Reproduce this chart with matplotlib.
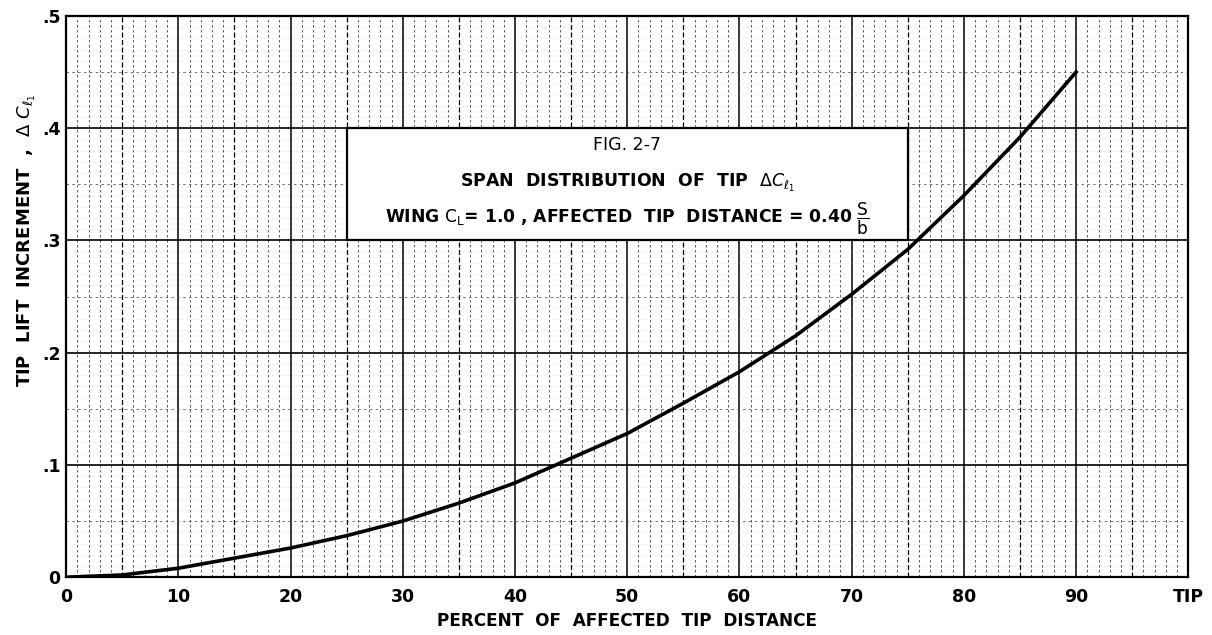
import numpy as np
import matplotlib.pyplot as plt
from matplotlib.patches import Rectangle

# values
pct_tip = [0, 5, 10, 15, 20, 25, 30, 35, 40, 45, 50, 55, 60, 65, 70, 75, 80, 85, 90]
delta_cl = [0.0, 0.002, 0.008, 0.017, 0.026, 0.037, 0.050, 0.066, 0.084, 0.106,
            0.128, 0.155, 0.183, 0.215, 0.252, 0.292, 0.340, 0.392, 0.450]

x_ticks = [0, 10, 20, 30, 40, 50, 60, 70, 80, 90, 100]
x_labels = ['0', '10', '20', '30', '40', '50', '60', '70', '80', '90', 'TIP']
y_ticks = [0, 0.1, 0.2, 0.3, 0.4, 0.5]
y_labels = ['0', '.1', '.2', '.3', '.4', '.5']

plt.rcParams['font.family'] = 'DejaVu Sans'
plt.rcParams['mathtext.fontset'] = 'dejavusans'

fig = plt.figure(figsize=(12.12, 6.35), dpi=100)
ax = fig.add_axes([0.0545, 0.091, 0.926, 0.884])

ax.set_xlim(0, 100)
ax.set_ylim(0, 0.5)

# graph paper grid
for xv in np.arange(1, 100):
    if xv % 10 == 0:
        ax.axvline(xv, color='black', lw=1.1, zorder=1)
    elif xv % 5 == 0:
        ax.axvline(xv, color='black', lw=0.9, ls=(0, (4, 2)), zorder=1)
    else:
        ax.axvline(xv, color='0.25', lw=0.6, ls=(0, (3, 3)), zorder=1)
for yv in np.arange(0.01, 0.5, 0.01):
    k = int(round(yv * 100))
    if k % 10 == 0:
        ax.axhline(yv, color='black', lw=1.2, zorder=1)
    elif k % 5 == 0:
        ax.axhline(yv, color='0.35', lw=0.6, ls=(0, (3, 4)), zorder=1)
    else:
        ax.axhline(yv, color='0.55', lw=0.4, ls=(0, (1, 6)), zorder=1)

# title box
ax.add_patch(Rectangle((25, 0.3), 50, 0.1, facecolor='white', edgecolor='black',
                       lw=1.6, zorder=3))
ax.text(50, 0.385, 'FIG. 2-7', ha='center', va='center', fontsize=12.5, zorder=4)
ax.text(50, 0.351, r'SPAN  DISTRIBUTION  OF  TIP  $\Delta C_{\ell_1}$',
        ha='center', va='center', fontsize=12.5, fontweight='bold', zorder=4)
ax.text(50, 0.319, r'WING $\mathsf{C_L}$= 1.0 , AFFECTED  TIP  DISTANCE = 0.40 $\dfrac{\mathsf{S}}{\mathsf{b}}$',
        ha='center', va='center', fontsize=12.3, fontweight='bold', zorder=4)

ax.plot(pct_tip, delta_cl, color='black', lw=2.6, zorder=5)

ax.set_xticks(x_ticks)
ax.set_xticklabels(x_labels, fontsize=12.5, fontweight='bold')
ax.set_yticks(y_ticks)
ax.set_yticklabels(y_labels, fontsize=12.5, fontweight='bold')
ax.tick_params(length=0, pad=8)
ax.tick_params(axis='y', pad=4)

ax.set_xlabel('PERCENT  OF  AFFECTED  TIP  DISTANCE', fontsize=12.2,
              fontweight='bold', labelpad=4)
ax.set_ylabel(r'TIP  LIFT  INCREMENT  ,  $\Delta\ C_{\ell_1}$', fontsize=13,
              fontweight='bold')
ax.yaxis.set_label_coords(-0.025, 0.6)

for s in ax.spines.values():
    s.set_linewidth(1.6)
    s.set_zorder(6)

fig.savefig('out.png', dpi=100)
